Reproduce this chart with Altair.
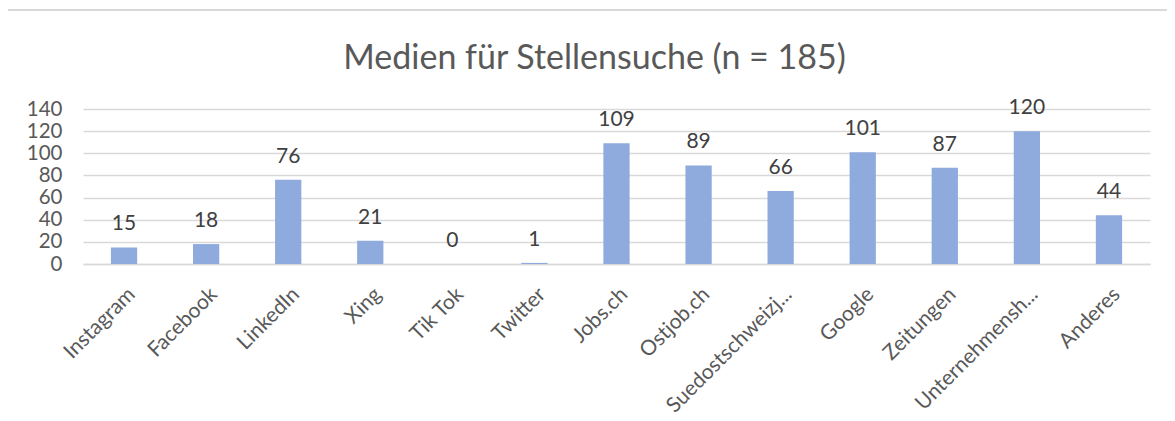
import altair as alt
import pandas as pd

categories = ["Instagram", "Facebook", "LinkedIn", "Xing", "Tik Tok", "Twitter",
              "Jobs.ch", "Ostjob.ch", "Suedostschweizj...", "Google", "Zeitungen",
              "Unternehmensh...", "Anderes"]
values = [15, 18, 76, 21, 0, 1, 109, 89, 66, 101, 87, 120, 44]
y_ticks = [0, 20, 40, 60, 80, 100, 120, 140]
title_text = "Medien für Stellensuche (n = 185)"

df = pd.DataFrame({"cat": categories, "val": values})

FONT = "Lato"
GRID = "#d9d9d9"
TXT = "#595959"

x_enc = alt.X("cat:N", sort=None, title=None,
              scale=alt.Scale(paddingInner=0.68, paddingOuter=0.34),
              axis=alt.Axis(labelAngle=-45, labelAlign="right", labelBaseline="middle",
                            labelPadding=27, labelOffset=8, ticks=False,
                            domainColor=GRID, domainWidth=1.3, labelFont=FONT,
                            labelFontSize=21, labelColor=TXT, labelLimit=300,
                            labelOverlap=False))
y_enc = alt.Y("val:Q", title=None,
              scale=alt.Scale(domain=[0, 140], nice=False),
              axis=alt.Axis(values=y_ticks, ticks=False, domain=False, gridColor=GRID,
                            gridWidth=1.3, labelFont=FONT, labelFontSize=20.5,
                            labelColor=TXT, labelPadding=21, labelOverlap=False))

bars = alt.Chart(df).mark_bar(color="#8faadc").encode(x=x_enc, y=y_enc)
labels = alt.Chart(df).mark_text(font=FONT, fontSize=21, color="#404040",
                                 baseline="alphabetic", dy=-17).encode(
    x=x_enc, y=y_enc, text="val:Q")

border_top = alt.Chart(df).mark_rule(color=GRID, strokeWidth=1.3).encode(
    x=alt.value(-76), x2=alt.value(1100), y=alt.value(-99))
border_left = alt.Chart(df).mark_rule(color=GRID, strokeWidth=1.3).encode(
    x=alt.value(-76), y=alt.value(-99), y2=alt.value(320))

chart = alt.layer(border_top, border_left, bars, labels).properties(
    width=1067, height=155,
    title=alt.TitleParams(title_text, font=FONT, fontSize=34, fontWeight="normal",
                          color=TXT, anchor="middle", dx=-22, offset=-94,
                          baseline="alphabetic"),
    autosize=alt.AutoSizeParams(type="none"),
    padding={"left": 75, "top": 101, "right": 17, "bottom": 170},
).configure_view(stroke=None)

chart.save("out.html", embed_options={"renderer": "svg", "actions": False})
